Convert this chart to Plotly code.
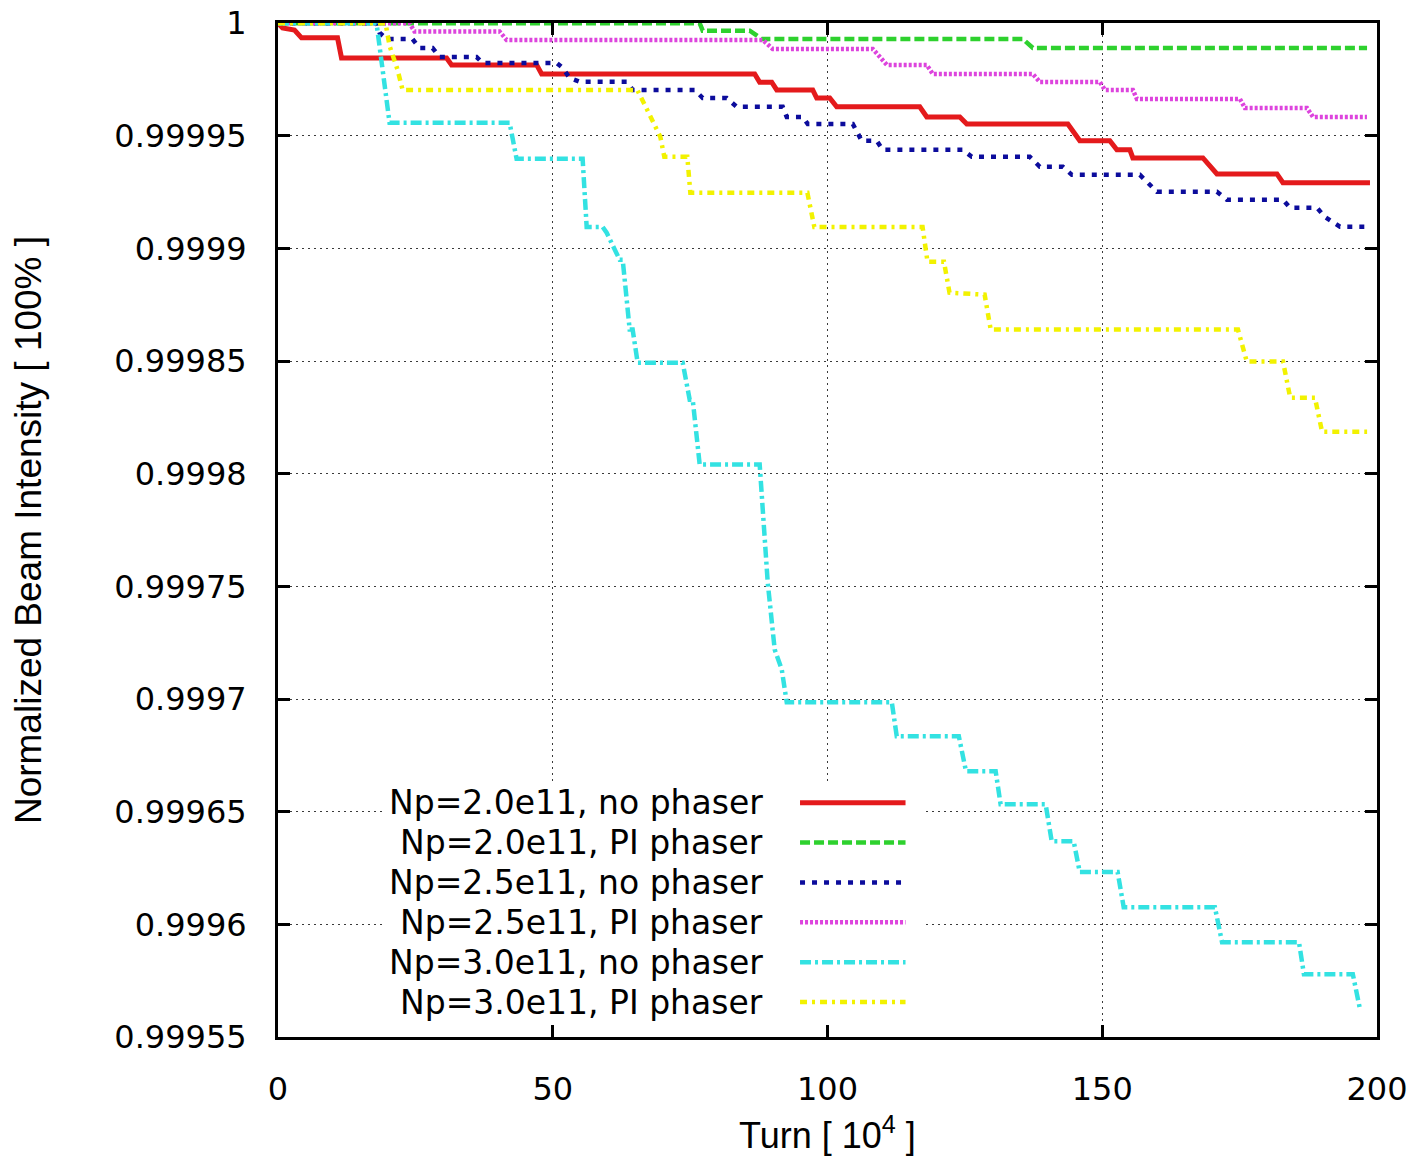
import plotly.graph_objects as go

# ---------------- data ----------------
names = ["Np=2.0e11, no phaser", "Np=2.0e11, PI phaser", "Np=2.5e11, no phaser",
         "Np=2.5e11, PI phaser", "Np=3.0e11, no phaser", "Np=3.0e11, PI phaser"]

red_x = [0, 0.82, 3.0, 4.28, 10.83, 11.56, 30.68, 31.59, 47.07, 47.98, 86.75, 87.66, 89.85,
         90.76, 97.31, 98.04, 100.41, 101.68, 116.79, 118.07, 124.08, 125.35, 143.74, 145.92,
         151.38, 152.66, 155.03, 155.57, 168.32, 170.87, 181.79, 182.88, 198.72]
red_y = [1.0, 0.9999979, 0.999997, 0.9999935, 0.9999935, 0.9999846, 0.9999846, 0.9999815,
         0.9999815, 0.9999775, 0.9999775, 0.9999738, 0.9999738, 0.9999704, 0.9999704,
         0.9999668, 0.9999668, 0.9999629, 0.9999629, 0.9999584, 0.9999584, 0.9999553,
         0.9999553, 0.9999478, 0.9999478, 0.9999438, 0.9999438, 0.9999402, 0.9999402,
         0.9999331, 0.9999331, 0.9999292, 0.9999292]

green_x = [0, 76.74, 77.29, 85.85, 88.03, 135.56, 137.38, 198.19]
green_y = [1.0, 1.0, 0.9999967, 0.9999967, 0.999993, 0.999993, 0.999989, 0.999989]

blue_x = [0, 17.93, 18.48, 19.75, 24.48, 25.76, 28.13, 29.4, 36.14, 37.23, 50.7, 51.8, 53.07,
          54.89, 63.45, 64.54, 75.83, 77.29, 81.66, 83.48, 91.85, 92.58, 95.49, 96.4, 104.6,
          106.23, 108.96, 110.05, 124.62, 126.26, 136.82, 138.64, 142.83, 144.47, 156.85,
          158.67, 159.94, 170.87, 172.69, 182.88, 184.15, 189.07, 190.52, 193.26, 198.17]
blue_y = [1.0, 1.0, 0.9999958, 0.999993, 0.999993, 0.999989, 0.999989, 0.999985, 0.999985,
          0.9999824, 0.9999824, 0.9999802, 0.9999757, 0.999974, 0.999974, 0.9999704,
          0.9999704, 0.9999668, 0.9999668, 0.9999629, 0.9999629, 0.9999584, 0.9999584,
          0.9999553, 0.9999553, 0.9999478, 0.9999478, 0.9999438, 0.9999438, 0.9999407,
          0.9999407, 0.9999363, 0.9999363, 0.9999327, 0.9999327, 0.9999286, 0.9999252,
          0.9999252, 0.9999216, 0.9999216, 0.9999181, 0.9999181, 0.999914, 0.9999097,
          0.9999097]

magenta_x = [0, 23.94, 24.85, 40.33, 41.6, 88.21, 90.03, 108.24, 110.79, 118.07, 119.16,
             137.36, 138.64, 149.56, 150.47, 155.57, 156.3, 175.05, 175.96, 187.25, 188.34,
             198.17]
magenta_y = [1.0, 1.0, 0.9999963, 0.9999963, 0.9999926, 0.9999926, 0.9999886, 0.9999886,
             0.9999815, 0.9999815, 0.9999775, 0.9999775, 0.9999739, 0.9999739, 0.9999704,
             0.9999704, 0.9999664, 0.9999664, 0.9999624, 0.9999624, 0.9999584, 0.9999584]

cyan_x = [0, 17.93, 20.3, 42.15, 43.42, 55.44, 56.17, 59.08, 59.81, 62.18, 62.73, 64.0, 64.54,
          65.45, 73.65, 74.92, 75.47, 76.74, 87.66, 89.12, 90.39, 91.67, 92.58, 111.7, 112.6,
          123.9, 125.2, 130.6, 131.5, 139.7, 140.8, 144.8, 145.9, 152.8, 153.9, 170.5, 171.8,
          185.8, 186.7, 195.6, 196.9]
cyan_y = [1.0, 1.0, 0.9999558, 0.9999558, 0.9999398, 0.9999398, 0.9999096, 0.9999096,
          0.999907, 0.999895, 0.999895, 0.999864, 0.999864, 0.9998493, 0.9998493, 0.9998329,
          0.9998329, 0.9998041, 0.9998041, 0.9997518, 0.999722, 0.9997132, 0.9996986,
          0.9996986, 0.9996835, 0.9996835, 0.999668, 0.999668, 0.9996533, 0.9996533,
          0.9996369, 0.9996369, 0.9996232, 0.9996232, 0.9996076, 0.9996076, 0.9995921,
          0.9995921, 0.9995779, 0.9995779, 0.9995624]

yellow_x = [0, 19.57, 20.3, 21.76, 22.67, 65.38, 67.2, 69.57, 70.3, 74.49, 75.04, 96.34, 97.6,
            117.3, 118.2, 121.2, 122.2, 128.6, 129.7, 174.7, 176.3, 182.9, 184.2, 188.7, 190.0,
            198.2]
yellow_y = [1.0, 1.0, 0.99999, 0.9999793, 0.9999704, 0.9999704, 0.9999615, 0.9999496,
            0.9999407, 0.9999407, 0.9999247, 0.9999247, 0.9999096, 0.9999096, 0.9998941,
            0.9998941, 0.9998804, 0.9998795, 0.999864, 0.999864, 0.9998498, 0.9998498,
            0.9998338, 0.9998338, 0.9998187, 0.9998187]

x_ticks = [0, 50, 100, 150, 200]
y_ticks = [0.99955, 0.9996, 0.99965, 0.9997, 0.99975, 0.9998, 0.99985, 0.9999, 0.99995, 1.0]
y_tick_labels = ["0.99955", "0.9996", "0.99965", "0.9997", "0.99975", "0.9998",
                 "0.99985", "0.9999", "0.99995", "1"]

# ---------------- styles ----------------
xs = [red_x, green_x, blue_x, magenta_x, cyan_x, yellow_x]
ys = [red_y, green_y, blue_y, magenta_y, cyan_y, yellow_y]
colors = ["#e41a1c", "#2ed12e", "#0c0c9c", "#dd44dd", "#33e2e2", "#f2f200"]
dashes = ["solid", "10px,4px", "5px,7px", "3px,2px", "11px,4px,3px,4px", "7px,5px,3px,5px"]
widths = [5, 4.5, 4.5, 4.5, 4.5, 4.5]

FONT = "DejaVu Sans"

fig = go.Figure()
for xv, yv, nm, c, d, w in zip(xs, ys, names, colors, dashes, widths):
    fig.add_trace(go.Scatter(x=xv, y=yv, mode="lines", name=nm,
                             line=dict(color=c, dash=d, width=w), showlegend=False))

axis_common = dict(
    showline=True, linecolor="black", linewidth=3, mirror="ticks",
    ticks="inside", ticklen=12, tickwidth=3, tickcolor="black",
    showgrid=True, gridcolor="#3a3a3a", gridwidth=1, griddash="2px,4px",
    zeroline=False, tickfont=dict(family=FONT, size=32, color="black"),
    ticklabeloverflow="allow",
)

fig.update_xaxes(range=[0, 200], tickvals=x_ticks, ticklabelstandoff=22,
                 title=dict(text="Turn [ 10<sup>4</sup> ]",
                            font=dict(family="Liberation Sans", size=36, color="black"),
                            standoff=16),
                 **axis_common)
fig.update_yaxes(range=[0.99955, 1.0000001], tickvals=y_ticks, ticktext=y_tick_labels,
                 ticklabelstandoff=22,
                 title=dict(text="Normalized Beam Intensity [ 100% ]",
                            font=dict(family="Liberation Sans", size=37, color="black"),
                            standoff=62),
                 **axis_common)

# ---------------- custom legend (text on the left, line sample on the right) ----------------
leg_top = 0.231
leg_step = 0.0393
text_right = 0.443
sample_x0, sample_x1 = 0.475, 0.571

shapes = [dict(type="rect", xref="paper", yref="paper", x0=0.097, x1=0.589,
               y0=0.015, y1=0.2505,
               fillcolor="white", line=dict(width=0), layer="above")]
annotations = []
for i, (nm, c, d, w) in enumerate(zip(names, colors, dashes, widths)):
    yy = leg_top - i * leg_step
    annotations.append(dict(text=nm, xref="paper", yref="paper", x=text_right, y=yy,
                            xanchor="right", yanchor="middle", showarrow=False,
                            font=dict(family=FONT, size=33, color="black")))
    shapes.append(dict(type="line", xref="paper", yref="paper", x0=sample_x0, x1=sample_x1,
                       y0=yy, y1=yy, line=dict(color=c, dash=d, width=w), layer="above"))

fig.update_layout(
    width=1415, height=1161,
    margin=dict(l=278, r=38, t=23, b=124, autoexpand=False),
    paper_bgcolor="white", plot_bgcolor="white",
    shapes=shapes, annotations=annotations,
    showlegend=False,
)

# remove the default 8px page margin so the figure fills the window exactly
fig.write_html("out.html",
               config={"displayModeBar": False},
               post_script="document.body.style.margin='0';document.body.style.overflow='hidden';")
